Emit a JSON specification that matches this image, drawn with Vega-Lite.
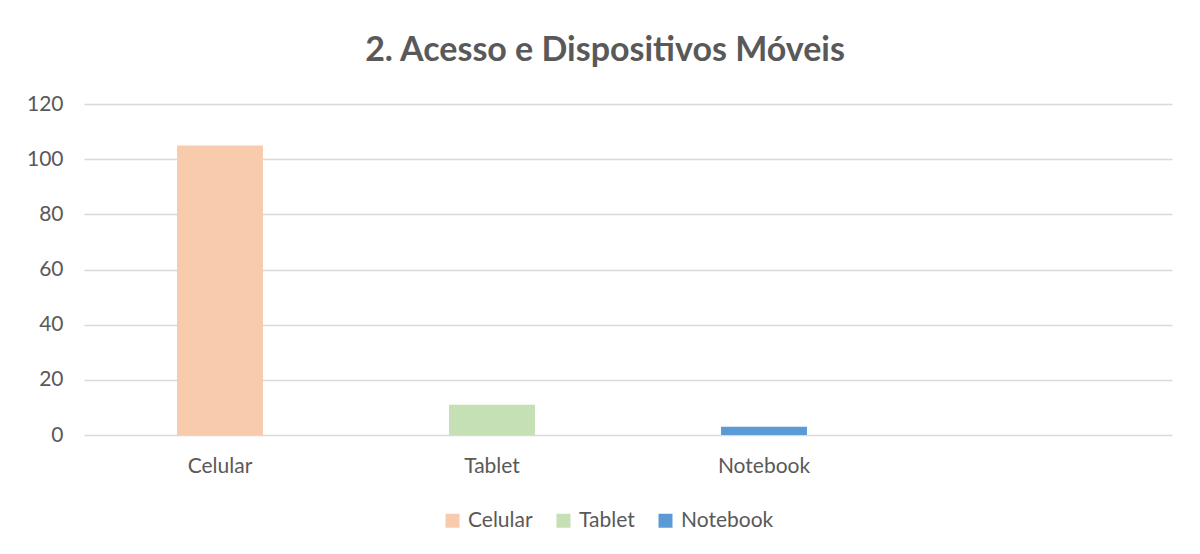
{
  "$schema": "https://vega.github.io/schema/vega-lite/v6.json",
  "autosize": "none",
  "width": 1088,
  "height": 331,
  "padding": {"left": 84, "top": 104, "right": 28, "bottom": 119},
  "background": "white",
  "title": {
    "text": "2. Acesso e Dispositivos Móveis",
    "font": "Lato",
    "fontSize": 34,
    "fontWeight": "bold",
    "color": "#595959",
    "anchor": "middle",
    "offset": 25,
    "dx": -23
  },
  "data": {
    "values": [
      {"dispositivo": "Celular", "valor": 105},
      {"dispositivo": "Tablet", "valor": 11},
      {"dispositivo": "Notebook", "valor": 3}
    ]
  },
  "mark": {"type": "bar"},
  "encoding": {
    "x": {
      "field": "dispositivo",
      "type": "nominal",
      "sort": null,
      "scale": {"domain": ["Celular", "Tablet", "Notebook", " "], "paddingInner": 0.684, "paddingOuter": 0.342},
      "axis": {
        "title": null,
        "labelAngle": 0,
        "labelFont": "Lato",
        "labelFontSize": 21,
        "labelColor": "#595959",
        "labelPadding": 20,
        "ticks": false,
        "domain": false,
        "grid": false
      }
    },
    "y": {
      "field": "valor",
      "type": "quantitative",
      "scale": {"domain": [0, 120], "nice": false},
      "axis": {
        "title": null,
        "values": [0, 20, 40, 60, 80, 100, 120],
        "labelFont": "Lato",
        "labelFontSize": 21,
        "labelColor": "#595959",
        "labelPadding": 21,
        "ticks": false,
        "domain": false,
        "grid": true,
        "gridColor": "#d9d9d9",
        "gridWidth": 1.5
      }
    },
    "color": {
      "field": "dispositivo",
      "type": "nominal",
      "scale": {"domain": ["Celular", "Tablet", "Notebook"], "range": ["#F8CBAD", "#C5E0B4", "#5B9BD5"]},
      "legend": {
        "title": null,
        "orient": "none",
        "direction": "horizontal",
        "legendX": 358,
        "legendY": 406,
        "symbolType": "square",
        "symbolSize": 196,
        "symbolStrokeWidth": 0,
        "labelFont": "Lato",
        "labelFontSize": 21,
        "labelColor": "#595959",
        "columnPadding": 20,
        "labelOffset": 5
      }
    }
  },
  "config": {
    "view": {"stroke": null}
  }
}
